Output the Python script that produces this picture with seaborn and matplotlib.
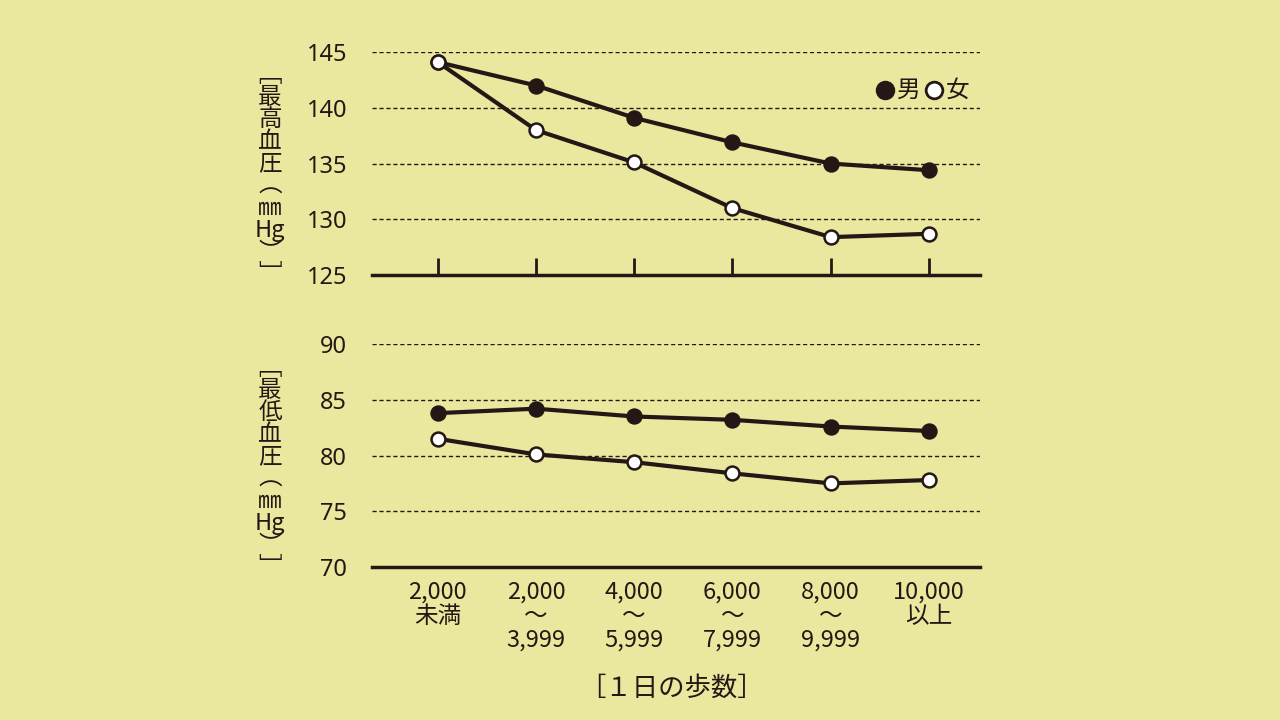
import matplotlib
matplotlib.use("Agg")
import matplotlib.pyplot as plt
import seaborn as sns
import pandas as pd

categories = ["2,000\n未満", "2,000\n～\n3,999", "4,000\n～\n5,999", "6,000\n～\n7,999", "8,000\n～\n9,999", "10,000\n以上"]
sys_male = [144.1, 142.0, 139.1, 136.9, 135.0, 134.4]
sys_female = [144.1, 138.0, 135.1, 131.0, 128.4, 128.7]
dia_male = [83.8, 84.2, 83.5, 83.2, 82.6, 82.2]
dia_female = [81.5, 80.1, 79.4, 78.4, 77.5, 77.8]
sys_ticks = [125, 130, 135, 140, 145]
dia_ticks = [70, 75, 80, 85, 90]

plt.rcParams["font.family"] = ["Noto Sans CJK JP"]
bg = "#EAE89E"
ink = "#231815"
fig = plt.figure(figsize=(12.8, 7.2), dpi=100, facecolor=bg)
ax1 = fig.add_axes([0.2906, 0.618, 0.475, 0.3097])
ax2 = fig.add_axes([0.2906, 0.2125, 0.475, 0.3097])

def draw(ax, male, female, ticks, show_x):
    ax.set_facecolor(bg)
    x = list(range(len(categories)))
    df = pd.DataFrame({"x": x * 2, "y": male + female, "s": ["男"] * 6 + ["女"] * 6})
    sns.lineplot(data=df, x="x", y="y", hue="s", palette={"男": ink, "女": ink}, ax=ax, legend=False, lw=3, clip_on=False)
    ax.plot(x, male, "o", color=ink, ms=10, mec=ink, mew=1.8, clip_on=False, zorder=5)
    ax.plot(x, female, "o", color="white", ms=10, mec=ink, mew=1.8, clip_on=False, zorder=5)
    ax.set_xlim(-0.67, 5.52)
    ax.set_ylim(ticks[0], ticks[-1])
    ax.set_yticks(ticks)
    ax.set_yticklabels([str(t) for t in ticks], fontsize=17, color=ink, fontfamily="Noto Sans")
    for t in ticks[1:]:
        ax.axhline(t, color=ink, ls=(0, (3, 2)), lw=1, zorder=0)
    for s in ["top", "right", "left"]:
        ax.spines[s].set_visible(False)
    ax.spines["bottom"].set_linewidth(2.5)
    ax.spines["bottom"].set_color(ink)
    ax.tick_params(axis="y", length=0, pad=18)
    ax.set_xticks(x)
    if show_x:
        ax.set_xticklabels(categories, fontsize=17, color=ink, linespacing=1.05)
        ax.tick_params(axis="x", length=0, pad=10)
    else:
        ax.set_xticklabels([])
        ax.tick_params(axis="x", direction="in", length=12, width=2, color=ink)
    ax.set_xlabel(""); ax.set_ylabel("")

draw(ax1, sys_male, sys_female, sys_ticks, False)
draw(ax2, dia_male, dia_female, dia_ticks, True)

ax1.plot([4.55], [141.6], "o", color=ink, ms=12, mec=ink, mew=2, clip_on=False)
ax1.text(4.67, 141.6, "男", fontsize=17, va="center", color=ink)
ax1.plot([5.05], [141.6], "o", color="white", ms=12, mec=ink, mew=2, clip_on=False)
ax1.text(5.17, 141.6, "女", fontsize=17, va="center", color=ink)

fig.text(270/1280, 1 - 175/720, "﹇\n最\n高\n血\n圧\n︵\n㎜\nHg\n︶\n﹈", fontsize=17, ha="center", va="center", color=ink, linespacing=0.95)
fig.text(270/1280, 1 - 468/720, "﹇\n最\n低\n血\n圧\n︵\n㎜\nHg\n︶\n﹈", fontsize=17, ha="center", va="center", color=ink, linespacing=0.95)
fig.text(672/1280, 1 - 688/720, "［１日の歩数］", fontsize=19, ha="center", va="center", color=ink)
fig.savefig("out.png", dpi=100, facecolor=bg)
